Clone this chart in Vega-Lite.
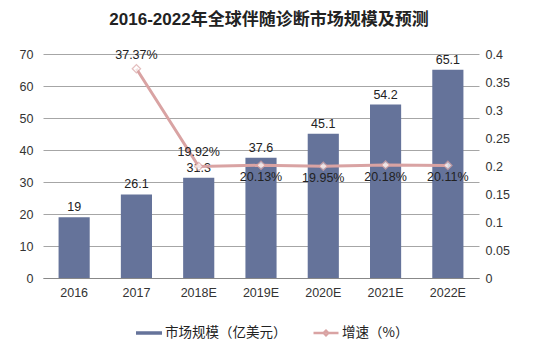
{
  "$schema": "https://vega.github.io/schema/vega-lite/v6.json",
  "width": 436,
  "height": 224,
  "autosize": {"type": "none"},
  "padding": {"left": 43, "top": 54, "right": 58, "bottom": 78},
  "background": "white",
  "config": {
    "view": {"stroke": null},
    "font": "Liberation Sans, Noto Sans CJK SC",
    "axis": {"labelFont": "Liberation Sans, Noto Sans CJK SC", "labelColor": "#333333", "labelFontSize": 12.5}
  },
  "title": {
    "text": "2016-2022年全球伴随诊断市场规模及预测",
    "font": "Liberation Sans, Noto Sans CJK SC",
    "fontSize": 17,
    "fontWeight": "bold",
    "color": "#222222",
    "anchor": "middle",
    "dx": 8,
    "offset": 19
  },
  "data": {
    "values": [
      {"year": "2016", "size": 19, "growth": null, "glabel": ""},
      {"year": "2017", "size": 26.1, "growth": 0.3737, "glabel": "37.37%"},
      {"year": "2018E", "size": 31.3, "growth": 0.1992, "glabel": "19.92%"},
      {"year": "2019E", "size": 37.6, "growth": 0.2013, "glabel": "20.13%"},
      {"year": "2020E", "size": 45.1, "growth": 0.1995, "glabel": "19.95%"},
      {"year": "2021E", "size": 54.2, "growth": 0.2018, "glabel": "20.18%"},
      {"year": "2022E", "size": 65.1, "growth": 0.2011, "glabel": "20.11%"}
    ]
  },
  "encoding": {
    "x": {
      "field": "year",
      "type": "ordinal",
      "sort": null,
      "scale": {"paddingInner": 0.5, "paddingOuter": 0.25},
      "axis": {"title": null, "labelAngle": 0, "ticks": false, "domainColor": "#888888", "labelPadding": 8}
    }
  },
  "layer": [
    {
      "encoding": {
        "y": {
          "field": "size",
          "type": "quantitative",
          "scale": {"domain": [0, 70]},
          "axis": {"title": null, "values": [0, 10, 20, 30, 40, 50, 60, 70], "tickCount": 8, "labelOverlap": false, "grid": true, "gridColor": "#a6a6a6", "domain": false, "ticks": false, "labelPadding": 10}
        }
      },
      "layer": [
        {
          "mark": {"type": "bar", "color": "#65739a"},
          "encoding": {
            "fill": {"datum": "市场规模（亿美元）", "type": "nominal", "scale": {"range": ["#65739a"]},
              "legend": {"orient": "none", "legendX": 92, "legendY": 265, "title": null, "symbolType": "M-1,-0.135H1V0.135H-1Z", "symbolSize": 676, "labelFontSize": 13.5, "labelColor": "#222222", "labelFont": "Noto Sans CJK SC", "labelOffset": 2}}
          }
        },
        {
          "mark": {"type": "text", "dy": -10, "fontSize": 12.5, "color": "#222222"},
          "encoding": {
            "text": {"field": "size", "type": "quantitative"}
          }
        }
      ]
    },
    {
      "transform": [{"filter": "datum.growth != null"}],
      "encoding": {
        "y": {
          "field": "growth",
          "type": "quantitative",
          "scale": {"domain": [0, 0.4]},
          "axis": {"title": null, "orient": "right", "values": [0, 0.05, 0.1, 0.15, 0.2, 0.25, 0.3, 0.35, 0.4], "tickCount": 9, "labelOverlap": false, "format": ".2~f", "grid": false, "domain": false, "ticks": false, "labelPadding": 6}
        }
      },
      "layer": [
        {
          "mark": {"type": "line", "color": "#d9a3a3", "strokeWidth": 3},
          "encoding": {
            "stroke": {"datum": "增速（%）", "type": "nominal", "scale": {"range": ["#d9a3a3"]},
              "legend": {"orient": "none", "legendX": 269, "legendY": 265, "title": null, "symbolType": "M-1,0H-0.18M0.18,0H1M-0.18,0L0,-0.18L0.18,0L0,0.18Z", "symbolSize": 625, "symbolStrokeWidth": 2.5, "symbolFillColor": "white", "labelFontSize": 13.5, "labelColor": "#222222", "labelFont": "Noto Sans CJK SC", "labelOffset": 2}}
          }
        },
        {
          "mark": {"type": "point", "shape": "diamond", "filled": true, "fill": "white", "stroke": "#d9a3a3", "strokeWidth": 1.2, "size": 70},
          "encoding": {}
        },
        {
          "transform": [{"filter": "datum.year == '2017' || datum.year == '2018E'"}],
          "mark": {"type": "text", "dy": -14, "fontSize": 12.5, "color": "#222222"},
          "encoding": {"text": {"field": "glabel"}}
        },
        {
          "transform": [{"filter": "datum.year != '2017' && datum.year != '2018E'"}],
          "mark": {"type": "text", "dy": 12, "fontSize": 12.5, "color": "#222222"},
          "encoding": {"text": {"field": "glabel"}}
        }
      ]
    }
  ],
  "resolve": {"scale": {"y": "independent", "fill": "independent", "stroke": "independent"}}
}
